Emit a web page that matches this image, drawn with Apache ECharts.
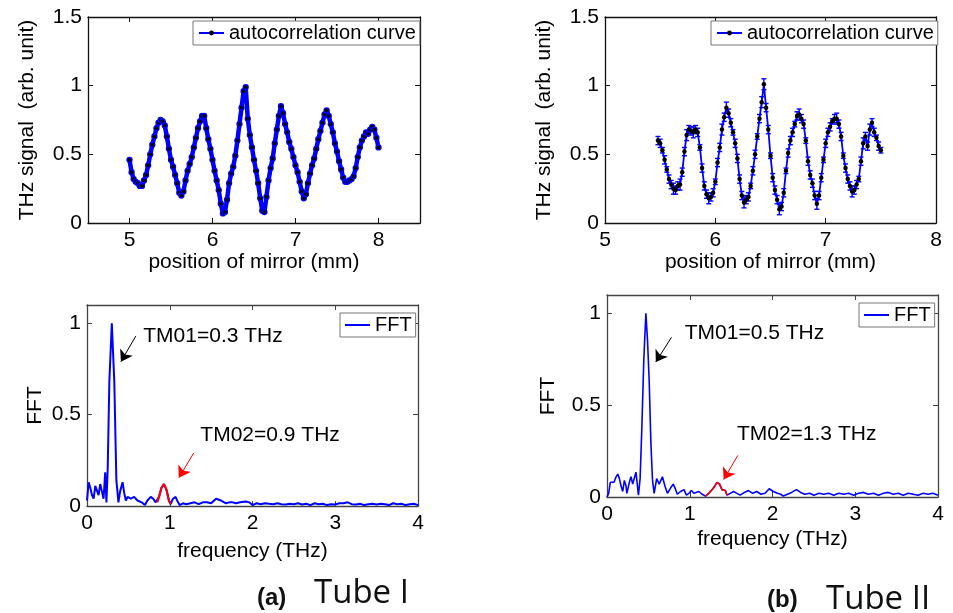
<!DOCTYPE html>
<html><head><meta charset="utf-8">
<script src="https://cdn.jsdelivr.net/npm/echarts@6/dist/echarts.min.js"></script>
<style>html,body{margin:0;padding:0;background:#fff}#c{width:953px;height:613px}</style>
</head><body><div id="c"></div>
<script>
// ---------- DATA ----------
const tlX = [5,5.025,5.05,5.075,5.1,5.125,5.15,5.175,5.2,5.225,
5.25,5.275,5.3,5.325,5.35,5.375,5.4,5.425,5.45,5.475,
5.5,5.525,5.55,5.575,5.6,5.625,5.65,5.675,5.7,5.725,
5.75,5.775,5.8,5.825,5.85,5.875,5.9,5.925,5.95,5.975,
6,6.025,6.05,6.075,6.1,6.125,6.15,6.175,6.2,6.225,
6.25,6.275,6.3,6.325,6.35,6.375,6.4,6.425,6.45,6.475,
6.5,6.525,6.55,6.575,6.6,6.625,6.65,6.675,6.7,6.725,
6.75,6.775,6.8,6.825,6.85,6.875,6.9,6.925,6.95,6.975,
7,7.025,7.05,7.075,7.1,7.125,7.15,7.175,7.2,7.225,
7.25,7.275,7.3,7.325,7.35,7.375,7.4,7.425,7.45,7.475,
7.5,7.525,7.55,7.575,7.6,7.625,7.65,7.675,7.7,7.725,
7.75,7.775,7.8,7.825,7.85,7.875,7.9,7.925,7.95,7.975,
8];
const tlY = [0.46,0.37,0.32,0.30,0.29,0.27,0.27,0.31,0.35,0.42,
0.50,0.57,0.63,0.69,0.73,0.75,0.74,0.71,0.63,0.54,
0.46,0.41,0.35,0.29,0.22,0.20,0.23,0.31,0.38,0.43,
0.48,0.55,0.62,0.69,0.74,0.78,0.78,0.69,0.61,0.54,
0.46,0.38,0.31,0.24,0.14,0.07,0.08,0.17,0.29,0.36,
0.41,0.49,0.60,0.72,0.84,0.96,0.99,0.76,0.64,0.55,
0.46,0.38,0.29,0.18,0.09,0.08,0.19,0.31,0.40,0.47,
0.58,0.68,0.78,0.85,0.80,0.72,0.66,0.59,0.54,0.48,
0.42,0.37,0.30,0.23,0.18,0.21,0.29,0.36,0.42,0.47,
0.54,0.61,0.67,0.73,0.79,0.82,0.78,0.72,0.66,0.58,
0.52,0.45,0.39,0.33,0.30,0.30,0.31,0.32,0.34,0.40,
0.48,0.55,0.60,0.63,0.66,0.65,0.68,0.70,0.68,0.62,
0.55];

const trX = [5.48,5.5,5.52,5.54,5.56,5.58,5.6,5.62,5.64,5.66,
5.68,5.7,5.72,5.74,5.76,5.78,5.8,5.82,5.84,5.86,
5.88,5.9,5.92,5.94,5.96,5.98,6,6.02,6.04,6.06,
6.08,6.1,6.12,6.14,6.16,6.18,6.2,6.22,6.24,6.26,
6.28,6.3,6.32,6.34,6.36,6.38,6.4,6.42,6.44,6.46,
6.48,6.5,6.52,6.54,6.56,6.58,6.6,6.62,6.64,6.66,
6.68,6.7,6.72,6.74,6.76,6.78,6.8,6.82,6.84,6.86,
6.88,6.9,6.92,6.94,6.96,6.98,7,7.02,7.04,7.06,
7.08,7.1,7.12,7.14,7.16,7.18,7.2,7.22,7.24,7.26,
7.28,7.3,7.32,7.34,7.36,7.38,7.4,7.42,7.44,7.46,
7.48,7.5];
const trY = [0.60,0.58,0.53,0.46,0.39,0.32,0.28,0.25,0.24,0.27,
0.28,0.37,0.52,0.64,0.68,0.67,0.66,0.68,0.66,0.55,
0.40,0.27,0.21,0.18,0.19,0.22,0.30,0.44,0.55,0.68,
0.77,0.84,0.80,0.73,0.66,0.58,0.47,0.32,0.20,0.15,
0.17,0.19,0.27,0.38,0.50,0.63,0.76,0.88,1.01,0.84,
0.68,0.49,0.33,0.24,0.17,0.10,0.12,0.22,0.38,0.51,
0.60,0.66,0.72,0.78,0.79,0.76,0.72,0.60,0.45,0.35,
0.29,0.20,0.14,0.20,0.33,0.46,0.58,0.66,0.70,0.74,
0.76,0.76,0.72,0.63,0.49,0.40,0.32,0.27,0.23,0.24,
0.28,0.32,0.45,0.58,0.63,0.56,0.68,0.73,0.66,0.62,
0.56,0.53];
const trErr = [0.03,0.03,0.02,0.03,0.02,0.03,0.03,0.04,0.03,0.03,
0.04,0.03,0.03,0.04,0.03,0.03,0.04,0.03,0.03,0.02,
0.03,0.03,0.03,0.04,0.03,0.03,0.02,0.03,0.03,0.04,
0.03,0.04,0.03,0.03,0.02,0.03,0.03,0.03,0.03,0.04,
0.03,0.03,0.02,0.03,0.03,0.02,0.03,0.04,0.04,0.03,
0.03,0.02,0.03,0.03,0.03,0.04,0.03,0.03,0.02,0.03,
0.03,0.03,0.02,0.03,0.04,0.03,0.03,0.02,0.03,0.03,
0.03,0.03,0.04,0.03,0.03,0.02,0.03,0.03,0.03,0.02,
0.03,0.04,0.03,0.03,0.02,0.03,0.03,0.03,0.04,0.03,
0.03,0.02,0.03,0.04,0.03,0.03,0.04,0.03,0.03,0.02,
0.03,0.02];

const fAX = [0,0.02,0.04,0.06,0.08,0.1,0.12,0.14,0.16,0.18,0.2,0.22,0.235,0.25,0.27,0.3,0.33,0.355,0.38,0.4,
0.43,0.45,0.47,0.49,0.51,0.53,0.55,0.57,0.59,0.61,0.63,0.66,0.7,0.73,0.77,0.8,0.83,0.85,0.87,0.9,
0.93,0.96,0.99,1.01,1.04,1.07,1.1,1.12,1.16,1.2,1.25,1.3,1.35,1.4,1.45,1.5,1.56,1.62,1.68,1.72,
1.76,1.8,1.85,1.92,1.96,2,2.05,2.1,2.15,2.2,2.25,2.3,2.35,2.4,2.45,2.5,2.55,2.6,2.65,2.7,
2.75,2.8,2.85,2.9,2.95,3,3.05,3.1,3.15,3.2,3.25,3.3,3.35,3.4,3.45,3.5,3.55,3.6,3.65,3.7,
3.75,3.8,3.85,3.9,3.95,4];
const fAY = [0.03,0.13,0.10,0.06,0.04,0.11,0.12,0.06,0.12,0.08,0.04,0.185,0.02,0.20,0.68,1.00,0.68,0.14,0.02,0.08,
0.13,0.07,0.03,0.05,0.06,0.04,0.03,0.05,0.05,0.03,0.04,0.02,0.005,0.03,0.05,0.04,0.02,0.02,0.05,0.10,
0.12,0.09,0.03,0.01,0.04,0.05,0.02,0.005,0.015,0.01,0.015,0.02,0.01,0.02,0.02,0.015,0.04,0.03,0.015,0.02,
0.02,0.015,0.02,0.025,0.02,0.005,0.015,0.01,0.015,0.012,0.01,0.015,0.01,0.008,0.012,0.01,0.015,0.008,0.012,0.005,
0.015,0.01,0.012,0.005,0.01,0.008,0.015,0.015,0.02,0.01,0.008,0.012,0.005,0.01,0.012,0.008,0.012,0.01,0.005,0.015,
0.01,0.012,0.005,0.01,0.012,0.005];
const redA = [0.85, 1.01];

const fBX = [0,0.02,0.04,0.06,0.085,0.11,0.13,0.15,0.17,0.19,0.21,0.23,0.24,0.27,0.29,0.31,0.32,0.35,0.38,0.4,
0.42,0.445,0.47,0.49,0.51,0.53,0.55,0.57,0.6,0.63,0.67,0.7,0.73,0.77,0.8,0.83,0.85,0.89,0.93,0.96,
0.99,1.02,1.05,1.07,1.11,1.15,1.19,1.23,1.28,1.33,1.36,1.39,1.43,1.45,1.49,1.53,1.57,1.61,1.66,1.71,
1.76,1.81,1.86,1.91,1.96,2.01,2.06,2.1,2.13,2.18,2.23,2.29,2.34,2.39,2.45,2.5,2.56,2.62,2.68,2.74,
2.8,2.86,2.92,2.98,3.04,3.1,3.16,3.22,3.28,3.34,3.4,3.46,3.52,3.58,3.64,3.7,3.76,3.82,3.88,3.94,4];
const fBY = [0,0.02,0.08,0.07,0.08,0.11,0.125,0.10,0.06,0.03,0.09,0.06,0.02,0.08,0.11,0.07,0.06,0.135,0.01,0.10,
0.36,0.75,1.00,0.85,0.63,0.30,0.09,0.02,0.10,0.07,0.11,0.06,0.02,0.05,0.07,0.04,0.015,0.03,0.04,0.01,
0.02,0.035,0.02,0.015,0.03,0.015,0.005,0.02,0.045,0.08,0.07,0.04,0.035,0.01,0.02,0.03,0.02,0.01,0.025,0.035,
0.02,0.03,0.015,0.02,0.045,0.03,0.02,0.015,0.005,0.015,0.025,0.04,0.025,0.015,0.02,0.01,0.02,0.015,0.02,0.01,
0.02,0.015,0.02,0.01,0.02,0.025,0.015,0.02,0.01,0.02,0.025,0.015,0.02,0.01,0.02,0.015,0.01,0.02,0.015,0.02,0.01];
const redB = [1.19, 1.45];

const xTicksTL = [5,6,7,8];
const yTicksTop = [0,0.5,1,1.5];
const yTicksBot = [0,0.5,1];

// ---------- HELPERS ----------
const FF = "'Liberation Sans', Arial, sans-serif";
const zip = (xs, ys) => xs.map((x, i) => [x, ys[i]]);
const seg = (xs, ys, r) => zip(xs, ys).filter(p => p[0] >= r[0] - 1e-9 && p[0] <= r[1] + 1e-9);

function axisPair(dim, g, min, max, ticks, name, nameGap, col) {
  const common = {
    gridIndex: g, type: 'value', min: min, max: max,
    splitLine: { show: false },
    axisLine: { show: true, onZero: false, lineStyle: { color: col, width: 1.3 } },
    axisTick: { show: true, inside: true, length: 5, customValues: ticks, lineStyle: { color: col, width: 1 } }
  };
  const main = Object.assign({}, common, {
    position: dim === 'x' ? 'bottom' : 'left',
    axisLabel: { customValues: ticks, fontSize: 21, color: '#000', fontFamily: FF, margin: dim === 'x' ? 7 : 6 },
    name: name, nameLocation: 'middle', nameGap: nameGap,
    nameTextStyle: { fontSize: 21, color: '#000', fontFamily: FF }
  });
  const sec = Object.assign({}, common, {
    position: dim === 'x' ? 'top' : 'right',
    axisLabel: { show: false }
  });
  return [main, sec];
}

const xAxes = [].concat(
  axisPair('x', 0, 4.5, 8.5, xTicksTL, 'position of mirror (mm)', 28, '#111'),
  axisPair('x', 1, 5, 8, xTicksTL, 'position of mirror (mm)', 28, '#111'),
  axisPair('x', 2, 0, 4, [0,1,2,3,4], 'frequency (THz)', 35, '#444'),
  axisPair('x', 3, 0, 4, [0,1,2,3,4], 'frequency (THz)', 32, '#444')
);
const yAxes = [].concat(
  axisPair('y', 0, 0, 1.5, yTicksTop, 'THz signal  (arb. unit)', 50, '#111'),
  axisPair('y', 1, 0, 1.5, yTicksTop, 'THz signal  (arb. unit)', 50, '#111'),
  axisPair('y', 2, 0, 1.1, yTicksBot, 'FFT', 41, '#444'),
  axisPair('y', 3, 0, 1.1, yTicksBot, 'FFT', 48, '#444')
);

function legendAt(left, top, name, plain) {
  const lg = {
    data: [plain ? { name: name, icon: 'rect' } : name],
    left: left, top: top, orient: 'vertical',
    backgroundColor: '#fff', borderColor: '#777', borderWidth: 1,
    padding: [2, 4, 2, 5], itemWidth: 25, itemGap: 0,
    selectedMode: false,
    textStyle: { fontSize: 20, color: '#000', fontFamily: FF }
  };
  if (plain) {
    lg.itemHeight = 2;
  } else {
    lg.itemHeight = 6;
    lg.itemStyle = { color: '#000', borderWidth: 0 };
  }
  return lg;
}

const errBars = {
  type: 'custom', xAxisIndex: 2, yAxisIndex: 2, z: 1, silent: true,
  data: trX.map((x, i) => [x, trY[i], trErr[i]]),
  renderItem: function (params, api) {
    const x = api.value(0), y = api.value(1), e = api.value(2);
    const t = api.coord([x, y + e]), b = api.coord([x, y - e]);
    const st = { stroke: '#0000ff', lineWidth: 1.4 };
    return { type: 'group', children: [
      { type: 'line', shape: { x1: t[0], y1: t[1], x2: b[0], y2: b[1] }, style: st },
      { type: 'line', shape: { x1: t[0] - 2.5, y1: t[1], x2: t[0] + 2.5, y2: t[1] }, style: st },
      { type: 'line', shape: { x1: b[0] - 2.5, y1: b[1], x2: b[0] + 2.5, y2: b[1] }, style: st }
    ] };
  }
};

function arrowML(list) {
  return {
    silent: true, symbol: ['none', 'arrow'], symbolSize: 11, label: { show: false },
    emphasis: { disabled: true },
    data: list.map(a => [
      { coord: [a[0], a[1]], lineStyle: { color: a[4], width: 1, type: 'solid' }, itemStyle: { color: a[4] } },
      { coord: [a[2], a[3]], lineStyle: { color: a[4], width: 1, type: 'solid' }, itemStyle: { color: a[4] } }
    ])
  };
}
const arrowsA = [[0.59, 0.93, 0.41, 0.79, '#000'], [1.29, 0.29, 1.11, 0.155, '#ff0000']];
const arrowsB = [[0.78, 0.87, 0.59, 0.735, '#000'], [1.58, 0.226, 1.41, 0.095, '#ff0000']];
const annA = [['TM01=0.3 THz', 0.68, 0.93], ['TM02=0.9 THz', 1.37, 0.385]];
const annB = [['TM01=0.5 THz', 0.94, 0.89], ['TM02=1.3 THz', 1.57, 0.34]];

const option = {
  animation: false,
  backgroundColor: '#fff',
  grid: [
    { left: 88, top: 17, width: 332, height: 206 },
    { left: 605, top: 17, width: 331, height: 206 },
    { left: 87, top: 305, width: 331, height: 201 },
    { left: 607, top: 295, width: 331, height: 202 }
  ],
  xAxis: xAxes,
  yAxis: yAxes,
  legend: [
    legendAt(193, 21, 'autocorrelation curve', false),
    legendAt(711, 21, 'autocorrelation curve', false),
    legendAt(340, 313, 'FFT', true),
    legendAt(859, 303, 'FFT', true)
  ],
  series: [
    { name: 'autocorrelation curve', type: 'line', xAxisIndex: 0, yAxisIndex: 0, z: 2,
      data: zip(tlX, tlY), symbol: 'circle', symbolSize: 5,
      lineStyle: { color: '#0000ff', width: 4.5 },
      itemStyle: { color: '#000', borderColor: '#0000ff', borderWidth: 1.3 } },
    errBars,
    { name: 'autocorrelation curve', type: 'line', xAxisIndex: 2, yAxisIndex: 2, z: 2,
      data: zip(trX, trY), symbol: 'circle', symbolSize: 4.5,
      lineStyle: { color: '#0000ff', width: 1.8 },
      itemStyle: { color: '#000', borderColor: '#000', borderWidth: 0 } },
    { name: 'FFT', type: 'line', xAxisIndex: 4, yAxisIndex: 4, z: 2,
      data: zip(fAX, fAY), showSymbol: false, symbol: 'none',
      lineStyle: { color: '#0000ff', width: 2 }, itemStyle: { color: '#0000ff' },
      markLine: arrowML(arrowsA) },
    { name: 'TM02 a', type: 'line', xAxisIndex: 4, yAxisIndex: 4, z: 3,
      data: seg(fAX, fAY, redA), showSymbol: false, symbol: 'none',
      lineStyle: { color: '#ff0000', width: 2 } },
    { name: 'FFT', type: 'line', xAxisIndex: 6, yAxisIndex: 6, z: 2,
      data: zip(fBX, fBY), showSymbol: false, symbol: 'none',
      lineStyle: { color: '#0000ff', width: 1.6 }, itemStyle: { color: '#0000ff' },
      markLine: arrowML(arrowsB) },
    { name: 'TM02 b', type: 'line', xAxisIndex: 6, yAxisIndex: 6, z: 3,
      data: seg(fBX, fBY, redB), showSymbol: false, symbol: 'none',
      lineStyle: { color: '#ff0000', width: 1.6 } }
  ]
};

const chart = echarts.init(document.getElementById('c'), null, { renderer: 'canvas' });
chart.setOption(option);

const gfx = [];
function addAnn(list, axisIdx) {
  list.forEach(a => {
    const p = chart.convertToPixel({ xAxisIndex: axisIdx, yAxisIndex: axisIdx }, [a[1], a[2]]);
    gfx.push({ type: 'text', x: p[0], y: p[1], silent: true,
      style: { text: a[0], fontSize: 21, fontFamily: FF, fill: '#000', align: 'left', verticalAlign: 'middle' } });
  });
}
addAnn(annA, 4);
addAnn(annB, 6);
const capFF = "'Open Sans', 'Noto Sans', sans-serif";
gfx.push({ type: 'text', x: 257, y: 598, style: { text: '(a)', fontSize: 24, fontWeight: 'bold', fontFamily: FF, fill: '#111', verticalAlign: 'middle' } });
gfx.push({ type: 'text', x: 314, y: 594, style: { text: 'Tube I', fontSize: 33, fontFamily: capFF, fill: '#111', verticalAlign: 'middle' } });
gfx.push({ type: 'text', x: 767, y: 600, style: { text: '(b)', fontSize: 24, fontWeight: 'bold', fontFamily: FF, fill: '#111', verticalAlign: 'middle' } });
gfx.push({ type: 'text', x: 826, y: 600, style: { text: 'Tube II', fontSize: 33, fontFamily: capFF, fill: '#111', verticalAlign: 'middle' } });
chart.setOption({ graphic: gfx });
</script></body></html>
